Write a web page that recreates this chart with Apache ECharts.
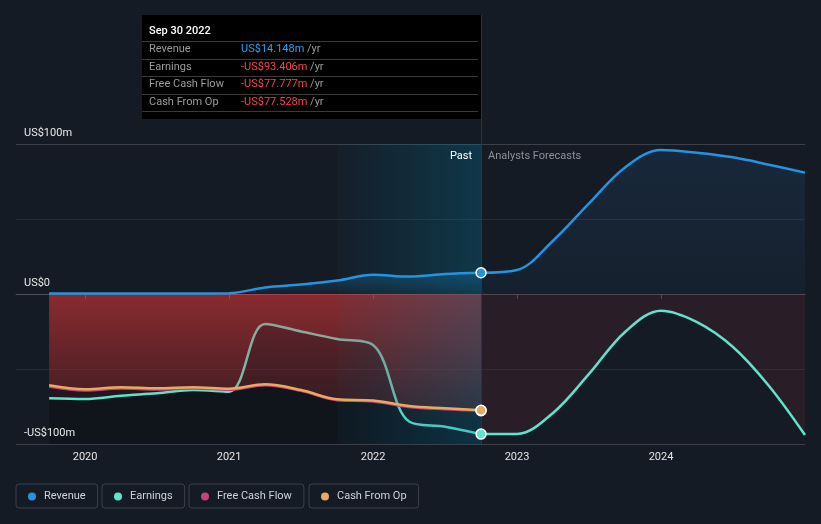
<!DOCTYPE html>
<html><head><meta charset="utf-8">
<script src="https://cdn.jsdelivr.net/npm/echarts@6/dist/echarts.min.js"></script>
<style>html,body{margin:0;padding:0;background:#151b24;}#c{width:821px;height:524px;}</style>
</head><body><div id="c"></div>
<script>
// ---- data (values in US$ millions, x in decimal years) ----
const pastX = [2019.75, 2020.0, 2020.25, 2020.5, 2020.75, 2021.0, 2021.25, 2021.5, 2021.75, 2022.0, 2022.25, 2022.5, 2022.75];
const revenuePast  = [0.4, 0.4, 0.4, 0.4, 0.4, 0.5, 4.4, 6.3, 9.0, 12.8, 11.6, 13.3, 14.148];
const earningsPast = [-69.5, -70.0, -67.8, -66.2, -64.0, -65.1, -20.0, -25.0, -30.0, -34.0, -85.0, -88.5, -93.406];
const fcfPast      = [-61.6, -64.3, -63.0, -63.6, -63.0, -63.8, -60.8, -64.6, -70.8, -71.6, -75.3, -76.8, -77.777];
const cfoPast      = [-60.9, -63.5, -62.2, -62.9, -62.2, -63.1, -60.2, -64.0, -70.2, -71.0, -74.7, -76.2, -77.528];
const forecastX = [2022.75, 2023.0, 2023.25, 2023.5, 2023.75, 2024.0, 2024.25, 2024.5, 2024.75, 2025.0];
const revenueForecast  = [14.148, 16.0, 35.5, 60.4, 84.4, 96.0, 94.2, 91.1, 86.2, 80.9];
const earningsForecast = [-93.406, -93.3, -79.3, -53.3, -25.3, -11.1, -18.7, -35.3, -61.3, -94.0];
const yearTicks = [2020, 2021, 2022, 2023, 2024];
const highlight = [2021.75, 2022.75];
const pastSpan = [2019.75, 2022.75];
const tooltipDate = 'Sep 30 2022';
const seriesNames = ['Revenue', 'Earnings', 'Free Cash Flow', 'Cash From Op'];
const colors = ['#2394df', '#5ee3cd', '#c3427e', '#e9a95f'];
const legendLeft = [16, 102, 189, 309];

const chart = echarts.init(document.getElementById('c'), null, {renderer: 'canvas'});
const P = (xs, ys) => xs.map((x, i) => [x, ys[i]]);
const SM = 0.35;
const grad = (c0, c1) => new echarts.graphic.LinearGradient(0, 0, 0, 1, [{offset: 0, color: c0}, {offset: 1, color: c1}]);
const area = (name, data, color, z) => ({name, type: 'line', data, smooth: SM, symbol: 'none', silent: true,
  lineStyle: {width: 0}, areaStyle: {color}, z});
const line = (name, data, color, z) => ({name, type: 'line', data, smooth: SM, symbol: 'none', silent: true,
  lineStyle: {width: 2.5, color}, itemStyle: {color}, z});
const dot = (name, x, y, color) => ({name, type: 'scatter', data: [[x, y]], symbolSize: 10, silent: true,
  itemStyle: {color, borderColor: '#ffffff', borderWidth: 1.5, opacity: 1}, z: 6});
const fmt = v => (v < 0 ? '-US$' : 'US$') + Math.abs(v).toFixed(3) + 'm';
const last = a => a[a.length - 1];
const lx = last(pastX);

const series = [
  {type: 'line', data: [], silent: true, z: 0,
   markArea: {silent: true, z: 0, itemStyle: {color: 'rgba(0,0,0,0.2)'},
     data: [[{xAxis: pastSpan[0], yAxis: 0}, {xAxis: pastSpan[1], yAxis: -100}]]}},
  area('Revenue', P(pastX, revenuePast), grad('rgba(33,150,230,0.4)', 'rgba(33,150,230,0.06)'), 1),
  area('Revenue', P(forecastX, revenueForecast), grad('rgba(40,120,200,0.2)', 'rgba(40,120,200,0.08)'), 1),
  area('Earnings', P(pastX, earningsPast), grad('rgba(222,58,60,0.38)', 'rgba(222,58,60,0)'), 1),
  area('Earnings', P(forecastX, earningsForecast), 'rgba(110,45,55,0.33)', 1),
  line('Earnings', P(pastX, earningsPast), colors[1], 2),
  area('Free Cash Flow', P(pastX, fcfPast), grad('rgba(222,58,60,0.62)', 'rgba(222,58,60,0.24)'), 3),
  {type: 'line', data: [], silent: true, z: 4,
   markArea: {silent: true, z: 4,
     itemStyle: {color: new echarts.graphic.LinearGradient(0, 0, 1, 0, [{offset: 0, color: 'rgba(0,120,160,0.04)'}, {offset: 1, color: 'rgba(0,120,160,0.3)'}])},
     data: [[{xAxis: highlight[0], yAxis: 100}, {xAxis: highlight[1], yAxis: -100}]]}},
  line('Revenue', P(pastX, revenuePast), colors[0], 5),
  line('Revenue', P(forecastX, revenueForecast), colors[0], 5),
  line('Earnings', P(forecastX, earningsForecast), colors[1], 5),
  line('Free Cash Flow', P(pastX, fcfPast), colors[2], 5),
  line('Cash From Op', P(pastX, cfoPast), colors[3], 5),
  dot('Revenue', lx, last(revenuePast), colors[0]),
  dot('Earnings', lx, last(earningsPast), colors[1]),
  dot('Free Cash Flow', lx, last(fcfPast), colors[2]),
  dot('Cash From Op', lx, last(cfoPast), colors[3])
];

const legends = seriesNames.map((n, i) => ({
  data: [{name: n, icon: 'circle', itemStyle: {color: colors[i]}}],
  left: legendLeft[i], top: 484, padding: [7, 12, 6, 12], itemWidth: 8, itemHeight: 8,
  borderColor: '#3b4049', borderWidth: 1, borderRadius: 3, selectedMode: false,
  textStyle: {color: '#cfd3d9', fontSize: 11, fontFamily: 'Roboto', padding: [0, 0, 0, 3]}
}));

chart.setOption({
  animation: false,
  backgroundColor: '#151b24',
  textStyle: {fontFamily: 'Roboto'},
  grid: {left: 16, right: 16, top: 144, bottom: 80},
  legend: legends,
  xAxis: {type: 'value', min: 2019.52, max: 2025,
    axisLine: {lineStyle: {color: '#4b5059'}},
    axisTick: {show: true, customValues: yearTicks, length: 5, lineStyle: {color: '#4b5059'}},
    axisLabel: {customValues: yearTicks, color: '#e6e6e6', fontSize: 11, margin: 8, formatter: v => String(Math.round(v))},
    splitLine: {show: false}},
  yAxis: {type: 'value', min: -100, max: 100, interval: 50,
    axisLine: {show: false}, axisTick: {show: false},
    axisLabel: {inside: true, margin: 8, verticalAlign: 'bottom', padding: [0, 0, 5, 0], color: '#e8e8e8', fontSize: 11,
      formatter: v => v === 0 ? 'US$0' : (Math.abs(v) === 100 ? (v < 0 ? '-US$' : 'US$') + Math.abs(v) + 'm' : '')},
    splitLine: {lineStyle: {color: ['#3a3f48', '#262b33', '#ffffff', '#262b33', '#3c4149'], width: 1}}},
  series
});

const X = chart.convertToPixel({xAxisIndex: 0}, lx);
const yTop = chart.convertToPixel({yAxisIndex: 0}, 100);
const yBot = chart.convertToPixel({yAxisIndex: 0}, -100);
const tipW = 339, tipTop = 15, tipH = 104;
const vals = [last(revenuePast), last(earningsPast), last(fcfPast), last(cfoPast)];
const tipEls = [
  {type: 'rect', shape: {x: X - tipW, y: tipTop, width: tipW, height: tipH}, style: {fill: '#000000'}},
  {type: 'text', x: X - tipW + 7, y: tipTop + 16, style: {text: tooltipDate, fill: '#ffffff', font: '500 11px Roboto', verticalAlign: 'middle'}}
];
for (let i = 0; i < 5; i++) {
  const yy = Math.round(tipTop + 26 + i * 17.5) + 0.5;
  tipEls.push({type: 'line', shape: {x1: X - tipW, y1: yy, x2: X - 3, y2: yy}, style: {stroke: '#3a3a3a', lineWidth: 1}});
}
seriesNames.forEach((n, i) => {
  const yc = tipTop + 34.5 + i * 17.5;
  tipEls.push({type: 'text', x: X - tipW + 7, y: yc, style: {text: n, fill: '#9c9c9c', font: '11px Roboto', verticalAlign: 'middle'}});
  tipEls.push({type: 'text', x: X - tipW + 99, y: yc, style: {
    text: '{v|' + fmt(vals[i]) + '} {u|/yr}', verticalAlign: 'middle', font: '11px Roboto',
    rich: {v: {fill: vals[i] < 0 ? '#f24646' : '#2d9ff0', font: '11px Roboto'}, u: {fill: '#9c9c9c', font: '11px Roboto'}}}});
});

chart.setOption({graphic: [
  {type: 'line', z: 1, silent: true, shape: {x1: X + 0.5, y1: tipTop, x2: X + 0.5, y2: yBot}, style: {stroke: '#1d3b4a', lineWidth: 1}},
  {type: 'text', z: 7, silent: true, x: X - 9, y: yTop + 12, style: {text: 'Past', fill: '#ffffff', font: '11px Roboto', align: 'right', verticalAlign: 'middle'}},
  {type: 'text', z: 7, silent: true, x: X + 7, y: yTop + 12, style: {text: 'Analysts Forecasts', fill: '#8b9098', font: '11px Roboto', align: 'left', verticalAlign: 'middle'}},
  {type: 'group', z: 100, silent: true, children: tipEls}
]});
</script></body></html>
